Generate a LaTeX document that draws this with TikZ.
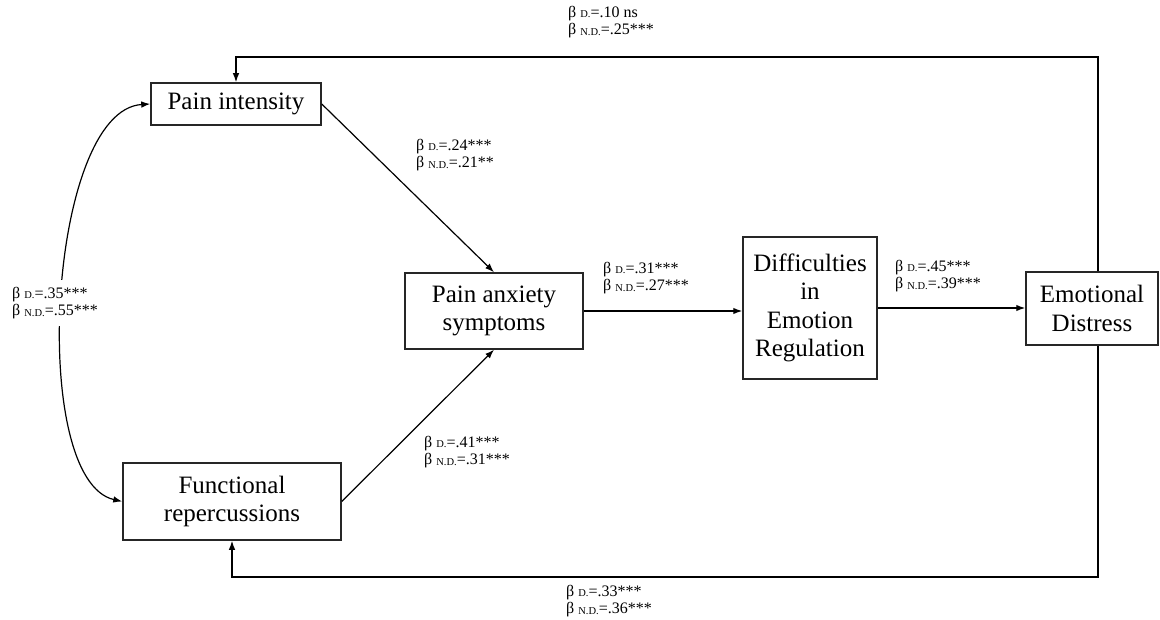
\documentclass[tikz,border=0pt]{standalone}
\usepackage{fontspec}
\setmainfont{Liberation Serif}
\usetikzlibrary{arrows.meta,calc}
\newcommand{\bl}[2]{β\ {\fontsize{10.5}{10.5}\selectfont\raisebox{-0.6pt}{#1}}=#2}
\begin{document}
\begin{tikzpicture}[x=1pt,y=-1pt,
  box/.style={draw=black!85, line width=1.5pt, align=center, font=\fontsize{25}{28.5}\selectfont, inner sep=0pt},
  conn/.style={line width=1.2pt},
  arr/.style={conn, -{Latex[length=9pt,width=6.5pt]}},
  dbl/.style={conn, {Latex[length=9pt,width=6.5pt]}-{Latex[length=9pt,width=6.5pt]}},
  lab/.style={anchor=west, align=left, font=\fontsize{16}{17.5}\selectfont, inner sep=0pt}]
\useasboundingbox (0,0) rectangle (1160,620);
\node[box, minimum width=170pt, minimum height=42pt] (PI) at (236,104) {Pain intensity};
\node[box, minimum width=178pt, minimum height=76pt] (PA) at (494,311) {Pain anxiety\\symptoms};
\node[box, minimum width=218pt, minimum height=77pt] (FR) at (232,501.5) {Functional\\repercussions};
\node[box, minimum width=134pt, minimum height=142pt] (DER) at (810,308) {Difficulties\\in\\Emotion\\Regulation};
\node[box, minimum width=132pt, minimum height=73pt] (ED) at (1092,308.5) {Emotional\\Distress};
\coordinate (tr) at (1098,57);
\coordinate (br) at (1098,577);
\draw[arr] (PI.east) -- (PA.north);
\draw[arr] (FR.east) -- (PA.south);
\draw[arr] (PA.east) -- (PA.east -| DER.west);
\draw[arr] (DER.east) -- (DER.east -| ED.west);
\draw[arr] (ED.north -| tr) -- (tr) -| (PI.north);
\draw[arr] (ED.south -| br) -- (br) -| (FR.south);
\draw[dbl] (PI.west) .. controls (48,110) and (28,480) .. (FR.west);
\node[lab, fill=white, inner ysep=7pt] (L35) at (12,303) {\bl{D.}{.35***}\\\bl{N.D.}{.55***}};
\node[lab] (L10) at (568,22) {\bl{D.}{.10 ns}\\\bl{N.D.}{.25***}};
\node[lab] (L24) at (416,155) {\bl{D.}{.24***}\\\bl{N.D.}{.21**}};
\node[lab] (L31) at (603,278) {\bl{D.}{.31***}\\\bl{N.D.}{.27***}};
\node[lab] (L45) at (895,276) {\bl{D.}{.45***}\\\bl{N.D.}{.39***}};
\node[lab] (L41) at (424,452) {\bl{D.}{.41***}\\\bl{N.D.}{.31***}};
\node[lab] (L33) at (566,601) {\bl{D.}{.33***}\\\bl{N.D.}{.36***}};
\end{tikzpicture}
\end{document}
